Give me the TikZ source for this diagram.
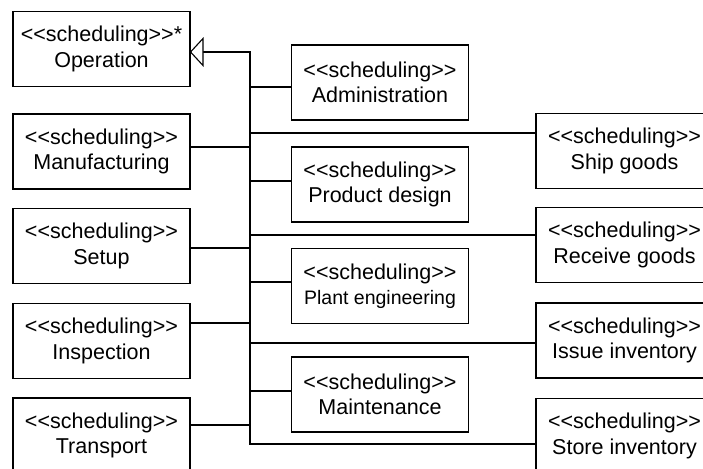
\documentclass[tikz,border=0pt]{standalone}
\usepackage{fontspec}
\setmainfont{Liberation Sans}
% guillemet-safe stereotype brackets
\newcommand\stereo[1]{<\kern0pt<#1>\kern0pt>}
\begin{document}
\begin{tikzpicture}[x=1pt,y=-1pt,
  box/.style={draw, line width=1.1pt, minimum width=177pt, minimum height=75pt,
    align=center, inner sep=0pt, font=\fontsize{21.5}{25.5}\selectfont},
  wire/.style={line width=1.1pt}]
\useasboundingbox (0,0) rectangle (703,468);
\clip (0,0) rectangle (703,468);
\fill[white] (0,0) rectangle (703,468);

% left column
\node[box] (op)  at (101.5,49)    {\stereo{scheduling}*\\Operation};
\node[box] (man) at (101.5,151.5) {\stereo{scheduling}\\Manufacturing};
\node[box] (set) at (101.5,246)   {\stereo{scheduling}\\Setup};
\node[box] (ins) at (101.5,341)   {\stereo{scheduling}\\Inspection};
\node[box] (tra) at (101.5,435.5) {\stereo{scheduling}\\Transport};

% middle column
\node[box] (adm) at (380,82.5)  {\stereo{scheduling}\\Administration};
\node[box] (pd)  at (380,184.5) {\stereo{scheduling}\\Product design};
\node[box] (pe)  at (380,286)   {\stereo{scheduling}\\{\fontsize{19.5}{22}\selectfont Plant engineering}};
\node[box] (mai) at (380,394.5) {\stereo{scheduling}\\Maintenance};

% right column
\node[box] (shp) at (624.5,151)   {\stereo{scheduling}\\Ship goods};
\node[box] (rcv) at (624.5,245)   {\stereo{scheduling}\\Receive goods};
\node[box] (iss) at (624.5,340.5) {\stereo{scheduling}\\Issue inventory};
\node[box] (sto) at (624.5,436)   {\stereo{scheduling}\\Store inventory};

% generalization trunk
\coordinate (tip)  at (190,52);
\coordinate (head) at (203,52);
\coordinate (ttop) at (250,52);
\coordinate (tbot) at (250,444);
\coordinate (jman) at (250,147);
\coordinate (jset) at (250,248);
\coordinate (jins) at (250,323);
\coordinate (jtra) at (250,425);
\coordinate (jadm) at (250,87);
\coordinate (jpd)  at (250,181);
\coordinate (jpe)  at (250,282);
\coordinate (jmai) at (250,391);
\coordinate (jshp) at (250,133);
\coordinate (jrcv) at (250,235);
\coordinate (jiss) at (250,343);

\draw[wire] (head) -- (ttop) -- (tbot) -- (sto.west |- tbot);
\draw[wire, fill=white, line join=miter] (op.east |- tip) -- ([yshift=13.5pt]head) -- ([yshift=-13.5pt]head) -- cycle;

\draw[wire] (man.east |- jman) -- (jman);
\draw[wire] (set.east |- jset) -- (jset);
\draw[wire] (ins.east |- jins) -- (jins);
\draw[wire] (tra.east |- jtra) -- (jtra);
\draw[wire] (jadm) -- (adm.west |- jadm);
\draw[wire] (jpd)  -- (pd.west |- jpd);
\draw[wire] (jpe)  -- (pe.west |- jpe);
\draw[wire] (jmai) -- (mai.west |- jmai);
\draw[wire] (jshp) -- (shp.west |- jshp);
\draw[wire] (jrcv) -- (rcv.west |- jrcv);
\draw[wire] (jiss) -- (iss.west |- jiss);
\end{tikzpicture}
\end{document}
